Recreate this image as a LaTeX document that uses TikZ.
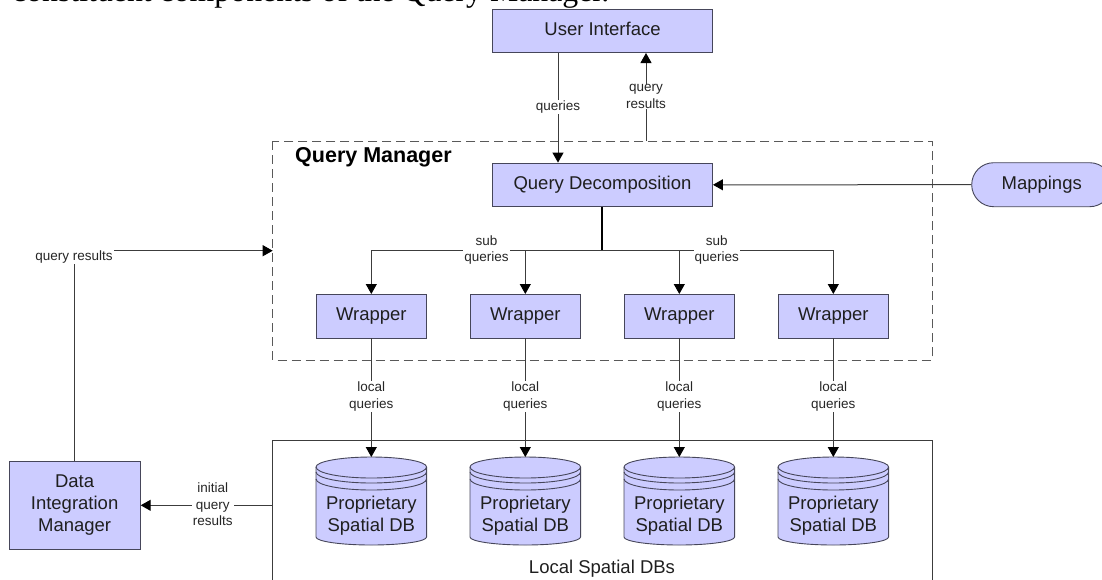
\documentclass[tikz,border=0pt]{standalone}
\usepackage{fontspec}
\setmainfont{Liberation Sans}
\newfontfamily\serifhead{Liberation Serif}
\usetikzlibrary{arrows.meta,shapes.misc}
\definecolor{boxfill}{RGB}{204,204,255}
\definecolor{edge}{RGB}{70,70,90}
\definecolor{conn}{RGB}{60,60,60}
\tikzset{
  x=1pt,y=-1pt,
  boxnode/.style={draw=edge,fill=boxfill,line width=0.9pt,inner sep=0pt,align=center,font=\fontsize{18.5}{22}\selectfont,text=black!88},
  lab/.style={fill=white,inner sep=1pt,align=center,font=\fontsize{13.5}{16.5}\selectfont,text=black!85},
  arr/.style={draw=conn,line width=1pt,-{Triangle[length=10pt,width=11pt,color=black]}},
  ln/.style={draw=conn,line width=1pt},
  dbtext/.style={align=center,font=\fontsize{18.5}{22}\selectfont,text=black!88,inner sep=0pt},
}
\newcommand{\dbcyl}[2]{%
  \def\cx{#1}
  \filldraw[draw=edge,fill=boxfill,line width=0.9pt]
    (\cx-55.3,467) arc[start angle=180,end angle=360,x radius=55.3,y radius=10]
    -- (\cx+55.3,537) arc[start angle=0,end angle=180,x radius=55.3,y radius=8] -- cycle;
  \draw[edge,line width=0.9pt] (\cx-55.3,467) arc[start angle=180,end angle=0,x radius=55.3,y radius=11];
  \draw[edge,line width=0.9pt] (\cx-55.3,472) arc[start angle=180,end angle=0,x radius=55.3,y radius=11];
  \draw[edge,line width=0.9pt] (\cx-55.3,479) arc[start angle=180,end angle=0,x radius=55.3,y radius=11];
  \node[dbtext] (#2) at (\cx,516) {Proprietary\\Spatial DB};
}
\begin{document}
\begin{tikzpicture}
\useasboundingbox (0,0) rectangle (1102,579);
\node[anchor=base west,inner sep=0pt,font=\serifhead\fontsize{31.8}{32}\selectfont] (cap) at (12,1.5) {constituent components of the Query Manager.};

% containers
\draw[draw=black!65,line width=1pt,dash pattern=on 9pt off 5pt] (272.7,141) rectangle (932,360);
\draw[draw=conn,line width=1pt] (272.7,600) -- (272.7,440.7) -- (932,440.7) -- (932,600);
\coordinate (qmw) at (272.7,250.7);
\coordinate (ldbw) at (272.7,505.3);
\node[anchor=base west,inner sep=0pt,font=\bfseries\fontsize{21.5}{24}\selectfont] (qm) at (295,162.3) {Query Manager};
\node[font=\fontsize{18.5}{22}\selectfont,inner sep=0pt,text=black!88] (ldb) at (602,569) {Local Spatial DBs};

% boxes
\node[boxnode,minimum width=220pt,minimum height=43.5pt] (ui) at (602.5,30.8) {User Interface\vphantom{y}};
\node[boxnode,minimum width=220pt,minimum height=43.5pt] (qd) at (602.5,184.8) {Query Decomposition};
\foreach \n/\c in {1/371.3,2/525.3,3/679.3,4/833.3}{
  \node[boxnode,minimum width=110.5pt,minimum height=43.5pt] (w\n) at (\c,316.2) {Wrapper};
}
\node[boxnode,minimum width=131.3pt,minimum height=88.3pt] (dim) at (74.6,505.2) {Data\\Integration\\Manager};
\node[boxnode,rounded rectangle,minimum width=140pt,minimum height=44pt] (map) at (1041.7,184.7) {Mappings};

% cylinders
\dbcyl{371.3}{db1}
\dbcyl{525.3}{db2}
\dbcyl{679.3}{db3}
\dbcyl{833.3}{db4}

% connectors
\coordinate (qin) at (558,0);
\draw[arr] (ui.south -| qin) -- (qd.north -| qin);
\node[lab] (lq) at (558,107) {queries};
\coordinate (qout) at (646,141);
\draw[arr] (qout) -- (qout |- ui.south);
\node[lab] (lr) at (646,96.5) {query\\results};
\draw[arr] (map.west) -- (qd.east);
\coordinate (hub) at (602,250.7);
\draw[draw=black,line width=1.2pt] (qd.south -| hub) -- (hub);
\coordinate (tl) at (w1.north |- hub);
\coordinate (tr) at (w4.north |- hub);
\coordinate (t2) at (w2.north |- hub);
\coordinate (t3) at (w3.north |- hub);
\draw[arr] (hub) -- (tl) -- (w1.north);
\draw[arr] (hub) -- (tr) -- (w4.north);
\draw[arr] (t2) -- (w2.north);
\draw[arr] (t3) -- (w3.north);
\node[lab] (s1) at (486.5,250) {sub\\queries};
\node[lab] (s2) at (716.7,250) {sub\\queries};
\foreach \n/\c/\d in {1/371.3/db1,2/525.3/db2,3/679.3/db3,4/833.3/db4}{
  \draw[arr] (w\n.south) -- (\c,457);
  \node[lab] (lq\n) at (\c,396.7) {local\\queries};
}
\draw[arr] (ldbw) -- (dim.east |- ldbw);
\node[lab] (ir) at (212.7,504.5) {initial\\query\\results};
\coordinate (corner) at (dim.north |- qmw);
\draw[ln] (dim.north) -- (corner);
\draw[arr] (corner) -- (qmw);
\node[lab] (qr) at (74,257) {query results};
\end{tikzpicture}
\end{document}
